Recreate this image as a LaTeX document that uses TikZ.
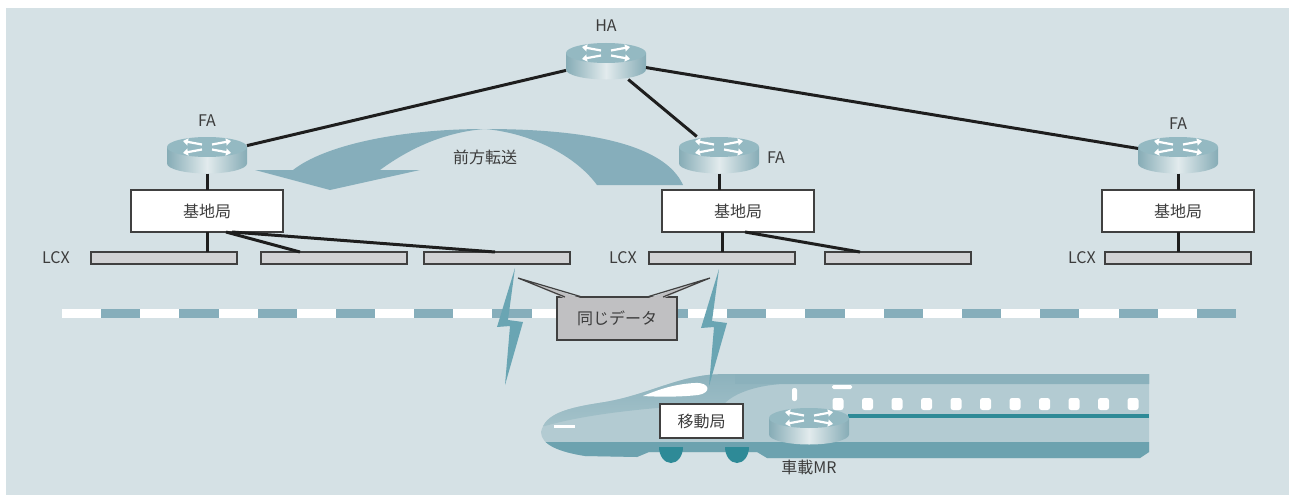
\documentclass[tikz,border=0pt]{standalone}
\usepackage{fontspec}
\setmainfont{Noto Sans CJK JP}
\usetikzlibrary{calc,arrows.meta}

\definecolor{panelbg}{HTML}{D5E1E5}
\definecolor{flowteal}{HTML}{86AEBB}
\definecolor{boltteal}{HTML}{6AA5B3}
\definecolor{barfill}{HTML}{D1D2D4}
\definecolor{calloutfill}{HTML}{C0C0C2}
\definecolor{edgegray}{HTML}{404040}
\definecolor{linkblack}{HTML}{1E1E1E}
\definecolor{textgray}{HTML}{3C3C3C}
\definecolor{routertop}{HTML}{94B9C2}
\definecolor{routerside}{HTML}{86ACB6}
\definecolor{routerlight}{HTML}{E2EBED}
\definecolor{trainbody}{HTML}{B3CBD2}
\definecolor{trainroof}{HTML}{8BB1BC}
\definecolor{trainnose}{HTML}{A4C2CA}
\definecolor{trainskirt}{HTML}{6CA2AF}
\definecolor{trainstripe}{HTML}{2E8A97}

% router drawn as a small cylinder around a named node
\newcommand{\router}[2]{%
  \node[routerbox] (#1) at (#2) {};
  \begin{scope}[shift={(#1.center)}]
    \shade[left color=routerside, right color=routerside, middle color=routerlight]
      (-40,-8) -- (-40,8.5) arc[start angle=180, end angle=0, x radius=40, y radius=10] -- (40,-8) -- cycle;
    \fill[routertop] (0,-8) ellipse[x radius=40, y radius=10];
    \draw[routerarrow] (-5,-10.5) -- (-24,-14);
    \draw[routerarrow] (5,-10.5) -- (24,-14);
    \draw[routerarrow] (-5,-5.5) -- (-24,-2);
    \draw[routerarrow] (5,-5.5) -- (24,-2);
  \end{scope}}

% lightning bolt, top tip at the given point
\newcommand{\bolt}[1]{%
  \fill[boltteal, shift={(#1)}] (0,0) -- (-18,59) -- (-5,58) -- (-10,117) -- (8,54) -- (-7,52) -- cycle;}

\begin{document}
\begin{tikzpicture}[x=1pt, y=-1pt,
  every node/.style={font=\fontsize{16}{19}\selectfont, text=textgray},
  routerbox/.style={minimum width=80pt, minimum height=37pt, inner sep=0pt, outer sep=0pt},
  routerarrow/.style={white, line width=2.2pt, -{Triangle[length=5pt, width=7pt]}},
  basebox/.style={draw=edgegray, fill=white, line width=1.5pt, minimum width=152pt, minimum height=42pt, inner sep=0pt, outer sep=0pt},
  lcx/.style={draw=edgegray, fill=barfill, line width=1.2pt, minimum width=146pt, minimum height=12pt, inner sep=0pt, outer sep=0pt},
  callout/.style={draw=edgegray, fill=calloutfill, line width=1.2pt, minimum width=120pt, minimum height=43pt, inner sep=0pt, outer sep=0pt},
  link/.style={draw=linkblack, line width=3pt}]
\useasboundingbox (0,0) rectangle (1289,495);
\fill[panelbg] (6,8) rectangle (1289,495);

% Track
\fill[white] (62,309) rectangle (1236,318);
\foreach \i in {0,...,14}
  \fill[flowteal] ({62+39.13*(2*\i+1)},309) rectangle ({62+39.13*(2*\i+2)},318);

% Forwarding arrow
\fill[flowteal] (683,185) .. controls (665,145) and (590,129) .. (485,129)
  .. controls (400,129) and (325,145) .. (293,170)
  -- (255,170) -- (330,190) -- (420,170) -- (380,170)
  .. controls (410,148) and (445,132) .. (485,129)
  .. controls (530,133) and (575,155) .. (597,185) -- cycle;
\node (fwd) at (485,157) {前方転送};

% Routers
\router{ha}{606,61}
\router{fa1}{207,155}
\router{fa2}{719,155}
\router{fa3}{1178,155}
\node (halabel) at (606,26) {HA};
\node (fa1label) at (207,121) {FA};
\node (fa2label) at (776,158) {FA};
\node (fa3label) at (1178,124) {FA};

% Base stations
\node[basebox] (bs1) at (207,211) {基地局};
\node[basebox] (bs2) at (738,211) {基地局};
\node[basebox] (bs3) at (1178,211) {基地局};

% Leaky coaxial cables
\node[lcx] (lcx1) at (164,258) {};
\node[lcx] (lcx2) at (334,258) {};
\node[lcx] (lcx3) at (497,258) {};
\node[lcx] (lcx4) at (722,258) {};
\node[lcx] (lcx5) at (898,258) {};
\node[lcx] (lcx6) at (1178,258) {};
\node (lcxlabel1) at (56,258) {LCX};
\node (lcxlabel2) at (623,258) {LCX};
\node (lcxlabel3) at (1082,258) {LCX};

% HA to the FAs
\draw[link] (ha) -- (fa1);
\draw[link] (ha) -- (fa2);
\draw[link] (ha) -- (fa3);
% FA to base stations
\draw[link] (fa1) -- (bs1);
\draw[link] (fa2.south) -- (fa2.south |- bs2.north);
\draw[link] (fa3) -- (bs3);
% Base stations to LCX
\draw[link] (bs1.south) -- (bs1.south |- lcx1.north);
\draw[link] ($(bs1.south)+(19,0)$) -- ($(lcx2.north)+(-34,0)$);
\draw[link] ($(bs1.south)+(25,0)$) -- ($(lcx3.north)+(-2,0)$);
\draw[link] (lcx4.north |- bs2.south) -- (lcx4.north);
\draw[link] ($(bs2.south)+(7,0)$) -- ($(lcx5.north)+(-38,0)$);
\draw[link] (bs3) -- (lcx6);

% Callout
\node[callout] (same) at (617,318.5) {同じデータ};
\coordinate (tipl) at (518,278);
\coordinate (tipr) at (710,278);
\fill[calloutfill] ([xshift=8pt, yshift=-1.5pt]same.north west) -- (tipl) -- ([xshift=25pt, yshift=-1.5pt]same.north west) -- cycle;
\draw[edgegray, line width=1.2pt] ([xshift=8pt]same.north west) -- (tipl) -- ([xshift=25pt]same.north west);
\fill[calloutfill] ([xshift=-30pt, yshift=-1.5pt]same.north east) -- (tipr) -- ([xshift=-14pt, yshift=-1.5pt]same.north east) -- cycle;
\draw[edgegray, line width=1.2pt] ([xshift=-30pt]same.north east) -- (tipr) -- ([xshift=-14pt]same.north east);

% Train body
\begin{scope}
  \clip (541,432) .. controls (545,414) and (565,408) .. (605,402)
    .. controls (640,396) and (668,382) .. (695,377)
    .. controls (710,374) and (720,374) .. (735,374) -- (1149,374) -- (1149,452)
    -- (1140,458) -- (767,458) -- (757,452) -- (649,452) -- (637,457) -- (585,456)
    .. controls (560,452) and (541,445) .. (541,432) -- cycle;
  \fill[trainbody] (530,370) rectangle (1150,460);
  \shade[top color=trainroof, bottom color=trainnose] (530,370) -- (1150,370) -- (1150,384) -- (783,384)
    .. controls (760,385) and (735,392) .. (724,404)
    .. controls (690,405) and (600,410) .. (545,426) -- (530,426) -- cycle;
  \fill[trainroof] (735,370) rectangle (1150,384);
  \fill[trainskirt] (530,442) rectangle (1150,460);
\end{scope}
% windshield and lights
\fill[white] (643,396) .. controls (660,389) and (675,384) .. (695,383)
  .. controls (710,382) and (712,393) .. (698,395)
  .. controls (680,397) and (660,397) .. (643,396) -- cycle;
\fill[white] (554,425) rectangle (575,428);
\fill[white, rounded corners=2pt] (792,388) rectangle (797,401);
\fill[white, rounded corners=1.5pt] (832,385) rectangle (852,389);
% windows
\foreach \i in {0,...,10}
  \fill[white, rounded corners=2.5pt] ({832.5+29.5*\i},398) rectangle ++(11,12);
\fill[trainstripe] (848,414) rectangle (1149,418);
% wheels
\fill[trainstripe] (659,447) arc[start angle=180, end angle=0, x radius=12, y radius=16] -- cycle;
\fill[trainstripe] (725,447) arc[start angle=180, end angle=0, x radius=12, y radius=16] -- cycle;

% Mobile station and on-board router
\node[basebox, line width=1.5pt, minimum width=83pt, minimum height=34pt] (ms) at (701.5,421) {移動局};
\router{mr}{809,426}
\node (mrlabel) at (809,467) {車載MR};

% Radio links
\bolt{515,268}
\bolt{719,269}
\end{tikzpicture}
\end{document}
